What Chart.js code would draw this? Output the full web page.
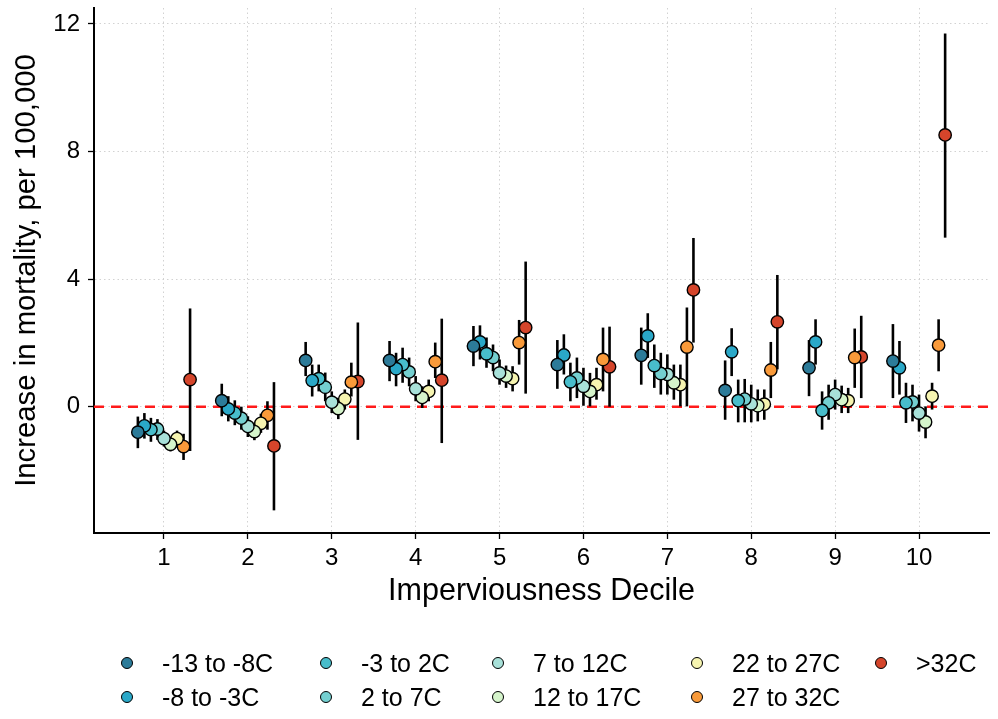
<!DOCTYPE html>
<html>
<head>
<meta charset="utf-8">
<script src="https://cdn.jsdelivr.net/npm/chart.js@4.4.1/dist/chart.umd.min.js"></script>
<style>
  html, body { margin: 0; padding: 0; background: #ffffff; }
  #wrap { position: relative; width: 998px; height: 719px; }
  #chart { position: absolute; left: 0; top: 0; }
  .lg-item { position: absolute; font-family: "Liberation Sans", Arial, sans-serif; font-size: 25px; color: #000; white-space: nowrap; line-height: 25px; }
  .lg-dot { position: absolute; width: 10px; height: 10px; border: 1.4px solid #000; border-radius: 50%; }
</style>
</head>
<body>
<div id="wrap">
  <canvas id="chart" width="998" height="719"></canvas>
  <div id="legend"></div>
</div>
<script>
// ---------------- DATA ----------------
const deciles = [1, 2, 3, 4, 5, 6, 7, 8, 9, 10];
const seriesLabels = ["-13 to -8C", "-8 to -3C", "-3 to 2C", "2 to 7C", "7 to 12C", "12 to 17C", "22 to 27C", "27 to 32C", ">32C"];
const seriesColors = ["#2c7b99", "#2aa8c8", "#48bdcb", "#74cfd0", "#a8e1d9", "#d5f4cb", "#f6f4b0", "#f99a3a", "#d5452b"];
const yTicks = [0, 4, 8, 12];

// point estimates per temperature bin (deciles 1..10)
const est_m13_m8 = [-0.80, 0.19, 1.45, 1.45, 1.90, 1.32, 1.61, 0.51, 1.22, 1.43];
const est_m8_m3  = [-0.60, -0.07, 0.82, 1.19, 2.03, 1.62, 2.22, 1.72, 2.03, 1.22];
const est_m3_2   = [-0.72, -0.20, 0.88, 1.32, 1.66, 0.78, 1.29, 0.19, -0.12, 0.12];
const est_2_7    = [-0.70, -0.36, 0.61, 1.09, 1.54, 0.90, 1.04, 0.24, 0.12, 0.15];
const est_7_12   = [-1.00, -0.62, 0.14, 0.56, 1.06, 0.64, 1.01, 0.09, 0.38, -0.20];
const est_12_17  = [-1.18, -0.78, -0.06, 0.29, 0.96, 0.48, 0.75, 0.03, 0.22, -0.48];
const est_22_27  = [-1.00, -0.52, 0.24, 0.48, 0.88, 0.69, 0.69, 0.08, 0.19, 0.33];
const est_27_32  = [-1.25, -0.27, 0.77, 1.41, 2.01, 1.48, 1.87, 1.15, 1.54, 1.93];
const est_gt32   = [0.85, -1.23, 0.79, 0.83, 2.48, 1.25, 3.66, 2.66, 1.56, 8.52];

// upper confidence limits
const hi_m13_m8 = [-0.31, 0.72, 2.03, 2.06, 2.53, 2.09, 2.48, 1.45, 2.09, 2.59];
const hi_m8_m3  = [-0.20, 0.33, 1.32, 1.69, 2.55, 2.27, 2.93, 2.46, 2.74, 2.06];
const hi_m3_2   = [-0.35, 0.20, 1.32, 1.85, 2.17, 1.38, 1.95, 0.85, 0.48, 0.75];
const hi_2_7    = [-0.39, 0.00, 1.07, 1.54, 1.95, 1.54, 1.69, 0.87, 0.69, 0.69];
const hi_7_12   = [-0.75, -0.30, 0.48, 0.96, 1.48, 1.22, 1.64, 0.69, 0.85, 0.38];
const hi_12_17  = [-0.95, -0.50, 0.28, 0.64, 1.29, 1.06, 1.32, 0.54, 0.66, 0.01];
const hi_22_27  = [-0.75, -0.22, 0.54, 0.85, 1.27, 1.22, 1.32, 0.54, 0.59, 0.75];
const hi_27_32  = [-0.85, 0.17, 1.38, 2.01, 2.72, 2.48, 3.11, 2.03, 2.45, 2.74];
const hi_gt32   = [3.08, 0.77, 2.64, 2.76, 4.55, 2.51, 5.29, 4.13, 2.85, 11.70];

// lower confidence limits
const lo_m13_m8 = [-1.30, -0.30, 0.96, 0.80, 1.27, 0.56, 0.69, -0.41, 0.33, 0.27];
const lo_m8_m3  = [-1.00, -0.46, 0.32, 0.64, 1.48, 1.01, 1.53, 0.96, 1.32, 0.38];
const lo_m3_2   = [-1.10, -0.58, 0.48, 0.75, 1.22, 0.17, 0.59, -0.49, -0.72, -0.51];
const lo_2_7    = [-1.04, -0.72, 0.17, 0.64, 1.11, 0.27, 0.38, -0.49, -0.41, -0.46];
const lo_7_12   = [-1.25, -0.95, -0.20, 0.17, 0.69, 0.03, 0.38, -0.49, -0.09, -0.78];
const lo_12_17  = [-1.40, -1.05, -0.39, -0.04, 0.59, 0.01, 0.22, -0.46, -0.20, -0.99];
const lo_22_27  = [-1.28, -0.82, -0.09, 0.17, 0.48, 0.22, 0.01, -0.41, -0.20, -0.09];
const lo_27_32  = [-1.67, -0.72, 0.32, 0.90, 1.32, 0.48, 0.01, 0.27, 0.59, 1.11];
const lo_gt32   = [-1.39, -3.25, -1.04, -1.14, 0.41, 0.00, 2.01, 1.17, 0.27, 5.30];

const estimates = [est_m13_m8, est_m8_m3, est_m3_2, est_2_7, est_7_12, est_12_17, est_22_27, est_27_32, est_gt32];
const uppers    = [hi_m13_m8, hi_m8_m3, hi_m3_2, hi_2_7, hi_7_12, hi_12_17, hi_22_27, hi_27_32, hi_gt32];
const lowers    = [lo_m13_m8, lo_m8_m3, lo_m3_2, lo_2_7, lo_7_12, lo_12_17, lo_22_27, lo_27_32, lo_gt32];

// ---------------- CHART ----------------
const FONT = "'Liberation Sans', Arial, Helvetica, sans-serif";
const dodgeWidth = 0.7;
const nSeries = seriesLabels.length;
const offsetOf = i => (i - (nSeries - 1) / 2) * dodgeWidth / nSeries;

const datasets = seriesLabels.map((lab, i) => ({
  label: lab,
  data: deciles.map((d, j) => ({ x: d + offsetOf(i), y: estimates[i][j], lo: lowers[i][j], hi: uppers[i][j] })),
  backgroundColor: seriesColors[i],
  borderColor: "#000000",
  borderWidth: 1.4,
  pointRadius: 6.2,
  pointHoverRadius: 6.2
}));

const refAndBars = {
  id: "refAndBars",
  beforeDatasetsDraw(chart) {
    const { ctx, chartArea, scales: { x, y } } = chart;
    ctx.save();
    // zero reference line
    const y0 = y.getPixelForValue(0);
    ctx.strokeStyle = "#ff1a1a";
    ctx.lineWidth = 2.4;
    ctx.setLineDash([10, 7]);
    ctx.beginPath();
    ctx.moveTo(chartArea.left, y0);
    ctx.lineTo(chartArea.right, y0);
    ctx.stroke();
    ctx.setLineDash([]);
    // error bars
    ctx.strokeStyle = "#000000";
    ctx.lineWidth = 2.6;
    chart.data.datasets.forEach(ds => {
      ds.data.forEach(p => {
        const px = x.getPixelForValue(p.x);
        ctx.beginPath();
        ctx.moveTo(px, y.getPixelForValue(p.lo));
        ctx.lineTo(px, y.getPixelForValue(p.hi));
        ctx.stroke();
      });
    });
    ctx.restore();
  }
};

new Chart(document.getElementById("chart"), {
  type: "scatter",
  data: { datasets },
  options: {
    responsive: false,
    animation: false,
    devicePixelRatio: 1,
    layout: { autoPadding: false, padding: { left: 0, right: 9, top: 8, bottom: 106 } },
    plugins: { legend: { display: false }, tooltip: { enabled: false } },
    scales: {
      x: {
        type: "linear",
        min: 0.166,
        max: 10.834,
        afterBuildTicks: s => { s.ticks = deciles.map(v => ({ value: v })); },
        afterFit: s => { s.height = 80; s.paddingLeft = 0; s.paddingRight = 0; },
        ticks: { color: "#000", font: { family: FONT, size: 24 }, padding: 5, callback: v => String(v) },
        grid: { color: "#d2d2d2", lineWidth: 1, tickColor: "#000", tickLength: 6, tickWidth: 1.3 },
        border: { display: true, color: "#000", width: 2, dash: [1.5, 3] },
        title: { display: true, text: "Imperviousness Decile", color: "#000", font: { family: FONT, size: 30.5 }, padding: { top: 0, bottom: 3 } }
      },
      y: {
        type: "linear",
        min: -3.96,
        max: 12.50,
        afterBuildTicks: s => { s.ticks = yTicks.map(v => ({ value: v })); },
        afterFit: s => { s.width = 94; s.paddingTop = 0; s.paddingBottom = 0; },
        ticks: { color: "#000", font: { family: FONT, size: 24 }, padding: 8, callback: v => String(v) },
        grid: { color: "#d2d2d2", lineWidth: 1, tickColor: "#000", tickLength: 6, tickWidth: 1.3 },
        border: { display: true, color: "#000", width: 2, dash: [1.5, 3] },
        title: { display: true, text: "Increase in mortality, per 100,000", color: "#000", font: { family: FONT, size: 29.3 }, padding: { top: 9, bottom: 0 } }
      }
    }
  },
  plugins: [refAndBars]
});

// ---------------- LEGEND (HTML, column-major like the reference) ----------------
const legendCols = [127, 326, 498, 697, 881];
const legendRows = [663, 697];
const legend = document.getElementById("legend");
seriesLabels.forEach((lab, i) => {
  const col = Math.floor(i / 2), row = i % 2;
  const cx = legendCols[col], cy = legendRows[row];
  const dot = document.createElement("div");
  dot.className = "lg-dot";
  dot.style.background = seriesColors[i];
  dot.style.left = (cx - 6.4) + "px";
  dot.style.top = (cy - 6.4) + "px";
  legend.appendChild(dot);
  const t = document.createElement("div");
  t.className = "lg-item";
  t.textContent = lab;
  t.style.left = (cx + 35) + "px";
  t.style.top = (cy - 12.5) + "px";
  legend.appendChild(t);
});
</script>
</body>
</html>
